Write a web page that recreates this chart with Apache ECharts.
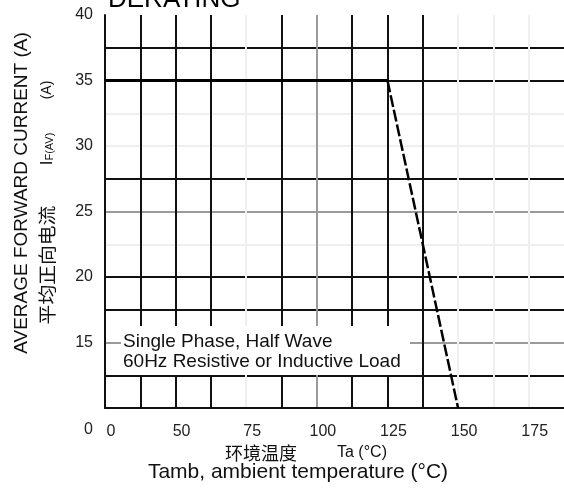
<!DOCTYPE html>
<html>
<head>
<meta charset="utf-8">
<script src="https://cdn.jsdelivr.net/npm/echarts@6/dist/echarts.min.js"></script>
<style>
html,body{margin:0;padding:0;background:#fff;}
#chart{width:564px;height:491px;}
</style>
</head>
<body>
<div id="chart"></div>
<script>
// Tick labels as printed on the chart (evenly spaced on the page)
var xTickLabels = [0, 50, 75, 100, 125, 150, 175];
var yTickLabels = [0, 15, 20, 25, 30, 35, 40];

// Derating curve: ambient temperature (°C) vs average forward current (A)
var temps = [0, 125, 150];
var currents = [35, 35, 0];

var FONT = '"Liberation Sans", Arial, sans-serif';
var CJK = '"Noto Sans CJK SC", sans-serif';

function xPos(t) { return xTickLabels.indexOf(t); }
function yPos(c) { return yTickLabels.indexOf(c); }

var pts = temps.map(function (t, i) { return [xPos(t), yPos(currents[i])]; });
var flatPart = pts.slice(0, 2);
var slopePart = pts.slice(1, 3);

var B = '#111', G = '#9a9a9a', F = '#efefef', N = 'rgba(0,0,0,0)';
// vertical grid lines at 0,0.5,...,6.5
var vColors = [N, B, B, B, F, B, G, B, B, B, F, F, F, N];
// horizontal grid lines at 0,0.5,...,6
var hColors = [N, B, G, B, B, F, G, B, F, F, B, B, N];

var chart = echarts.init(document.getElementById('chart'), null, {renderer: 'canvas'});
chart.setOption({
  backgroundColor: '#fff',
  animation: false,
  grid: {left: 105, top: 15, right: 0, bottom: 83, containLabel: false, outerBoundsMode: 'none'},
  xAxis: {
    type: 'value', min: 0, max: 6.5, interval: 0.5,
    axisLine: {show: true, onZero: false, lineStyle: {color: B, width: 2}},
    axisTick: {show: false},
    splitLine: {show: true, lineStyle: {color: vColors, width: 2}},
    axisLabel: {
      color: '#222', fontFamily: FONT, fontSize: 16, margin: 16,
      padding: [0, 0, 0, 12],
      showMinLabel: true, showMaxLabel: true,
      formatter: function (v) {
        return (Number.isInteger(v) && v < xTickLabels.length) ? String(xTickLabels[v]) : '';
      }
    }
  },
  yAxis: {
    type: 'value', min: 0, max: 6, interval: 0.5,
    axisLine: {show: true, onZero: false, lineStyle: {color: B, width: 2}},
    axisTick: {show: false},
    splitLine: {show: true, lineStyle: {color: hColors, width: 2}},
    axisLabel: {
      color: '#222', fontFamily: FONT, fontSize: 16, margin: 12,
      showMinLabel: true, showMaxLabel: true,
      formatter: function (v) {
        if (!Number.isInteger(v)) return '';
        if (v === 0) return '{z|' + yTickLabels[0] + '}';
        return String(yTickLabels[v]);
      },
      rich: {z: {fontFamily: FONT, fontSize: 16, color: '#222', padding: [44, 0, 0, 0]}}
    }
  },
  series: [
    {
      type: 'line', data: flatPart, symbol: 'none', z: 5,
      lineStyle: {color: '#000', width: 3}
    },
    {
      type: 'line', data: slopePart, symbol: 'none', z: 5,
      lineStyle: {color: '#000', width: 2.5, type: [12, 3]}
    }
  ],
  graphic: [
    {type: 'text', left: 108, top: -13, z: 10,
     style: {text: 'DERATING', font: '26px ' + FONT, fill: '#000'}},
    {type: 'rect', shape: {x: 121, y: 326, width: 289, height: 49}, z: 10,
     style: {fill: '#fff'}},
    {type: 'text', x: 123, y: 342, z: 11,
     style: {text: 'Single Phase, Half Wave', font: '19px ' + FONT, fill: '#111',
             verticalAlign: 'middle', align: 'left'}},
    {type: 'text', x: 123, y: 362, z: 11,
     style: {text: '60Hz Resistive or Inductive Load', font: '19px ' + FONT, fill: '#111',
             verticalAlign: 'middle', align: 'left'}},
    // y-axis titles (rotated)
    {type: 'text', x: 21.5, y: 193, rotation: Math.PI / 2, z: 10,
     style: {text: 'AVERAGE FORWARD CURRENT (A)', font: '19px ' + FONT, fill: '#111',
             align: 'center', verticalAlign: 'middle'}},
    {type: 'text', x: 47, y: 265, rotation: Math.PI / 2, scaleX: 1.1, z: 10,
     style: {text: '平均正向电流', font: '18px ' + CJK, fill: '#111',
             align: 'center', verticalAlign: 'middle'}},
    {type: 'text', x: 47, y: 149, rotation: Math.PI / 2, z: 10,
     style: {text: '{i|I}{s|F(AV)}', fill: '#111', align: 'center', verticalAlign: 'middle',
             rich: {i: {font: '17px ' + FONT, fill: '#111'},
                    s: {font: '11px ' + FONT, fill: '#111', padding: [6, 0, 0, 0]}}}},
    {type: 'text', x: 47, y: 90, rotation: Math.PI / 2, z: 10,
     style: {text: '(A)', font: '14px ' + FONT, fill: '#111',
             align: 'center', verticalAlign: 'middle'}},
    // x-axis titles
    {type: 'text', x: 261, y: 453, z: 10,
     style: {text: '环境温度', font: '18px ' + CJK, fill: '#111',
             align: 'center', verticalAlign: 'middle'}},
    {type: 'text', x: 337, y: 453, z: 10,
     style: {text: 'Ta (°C)', font: '16px ' + FONT, fill: '#111',
             align: 'left', verticalAlign: 'middle'}},
    {type: 'text', x: 298, y: 472, z: 10,
     style: {text: 'Tamb, ambient temperature (°C)', font: '21px ' + FONT, fill: '#111',
             align: 'center', verticalAlign: 'middle'}}
  ]
});
</script>
</body>
</html>
